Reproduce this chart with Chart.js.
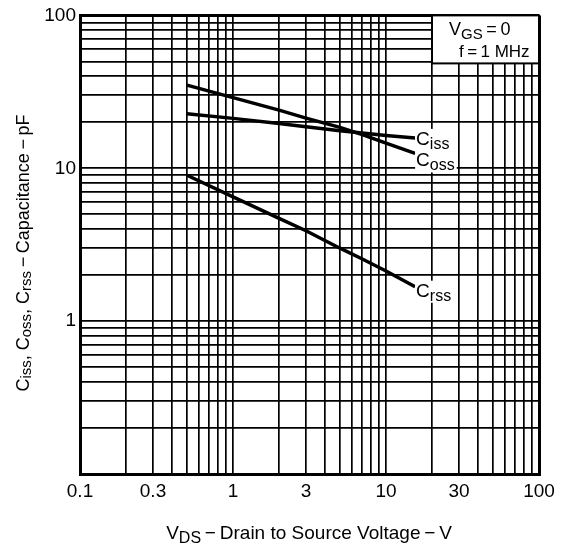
<!DOCTYPE html>
<html>
<head>
<meta charset="utf-8">
<script src="https://cdn.jsdelivr.net/npm/chart.js@4.4.1/dist/chart.umd.min.js"></script>
<style>
html, body { margin: 0; padding: 0; background: #fff; }
#wrap { width: 564px; height: 549px; }
</style>
</head>
<body>
<div id="wrap"><canvas id="grafico"></canvas></div>
<script>
// VDS (V) and capacitances (pF)
var vds  = [0.5, 1, 2, 3, 5, 7, 10, 15.5];
var ciss = [22.7, 21.2, 19.6, 18.7, 17.6, 17.0, 16.4, 15.8];
var coss = [35, 29, 24, 21.3, 18.5, 16.6, 14.6, 12.5];
var crss = [9.0, 6.5, 4.7, 3.9, 3.0, 2.55, 2.13, 1.68];

var xTickLabels = [0.1, 0.3, 1, 3, 10, 30, 100];
var yTickLabels = [1, 10, 100];
var decades = [0.1, 1, 10];
var steps = [1, 2, 3, 4, 5, 6, 7, 8, 9];

var gridVals = [];
decades.forEach(function (d) {
    steps.forEach(function (m) { gridVals.push(parseFloat((d * m).toPrecision(3))); });
});
gridVals.push(100);

var FONT = '"Liberation Sans", Arial, Helvetica, sans-serif';
Chart.defaults.font.family = FONT;
Chart.defaults.color = '#000';

function pts(ys) {
    return vds.map(function (x, i) { return { x: x, y: ys[i] }; });
}

// draw text made of normal / subscript pieces
function richWidth(ctx, parts, size) {
    var w = 0;
    parts.forEach(function (p) {
        ctx.font = (p.sub ? Math.round(size * 0.82) : size) + 'px ' + FONT;
        w += ctx.measureText(p.t).width;
    });
    return w;
}
function drawRich(ctx, parts, x, y, size, subDrop) {
    var cx = x;
    parts.forEach(function (p) {
        ctx.font = (p.sub ? Math.round(size * 0.82) : size) + 'px ' + FONT;
        ctx.fillText(p.t, cx, y + (p.sub ? subDrop : 0));
        cx += ctx.measureText(p.t).width;
    });
    return cx;
}

function edgeWidth(c) {
    var v = c.tick && c.tick.value;
    return (v === 0.1 || v === 100) ? 3 : 1.7;
}

var notes = {
    id: 'notes',
    afterDraw: function (chart) {
        var ctx = chart.ctx, a = chart.chartArea;
        var xs = chart.scales.x, ys = chart.scales.y;
        ctx.save();
        ctx.fillStyle = '#000';
        ctx.textBaseline = 'alphabetic';

        // curve labels at the end of each curve
        var curves = [
            { sub: 'iss', data: ciss, dy: 0 },
            { sub: 'oss', data: coss, dy: 6 },
            { sub: 'rss', data: crss, dy: 3 }
        ];
        curves.forEach(function (c) {
            var n = c.data.length - 1;
            var px = xs.getPixelForValue(vds[n]) + 1;
            var py = ys.getPixelForValue(c.data[n]) + 7 + c.dy;
            var parts = [{ t: 'C' }, { t: c.sub, sub: true }];
            var w = richWidth(ctx, parts, 19);
            ctx.fillStyle = '#fff';
            ctx.fillRect(px - 1, py - 16, w + 3, 22);
            ctx.fillStyle = '#000';
            drawRich(ctx, parts, px, py, 19, 4);
        });

        // condition box, top right
        var bx = a.right - 107, by = a.top, bw = 107, bh = 48;
        ctx.fillStyle = '#fff';
        ctx.fillRect(bx, by, bw, bh);
        ctx.strokeStyle = '#000';
        ctx.lineWidth = 2;
        ctx.strokeRect(bx, by, bw, bh);
        ctx.fillStyle = '#000';
        var p1 = [{ t: 'V' }, { t: 'GS', sub: true }, { t: '\u2009=\u20090' }];
        drawRich(ctx, p1, bx + 17, by + 20, 18, 4);
        ctx.font = '17px ' + FONT;
        ctx.fillText('f\u2009=\u20091 MHz', bx + 27, by + 42);

        // x axis title
        var xt = [{ t: 'V' }, { t: 'DS', sub: true }, { t: '\u2009\u2212\u2009Drain to Source Voltage\u2009\u2212\u2009V' }];
        var wx = richWidth(ctx, xt, 19);
        drawRich(ctx, xt, 309 - wx / 2, 539, 19, 4);

        // y axis title (rotated)
        var yt = [{ t: 'C' }, { t: 'iss', sub: true }, { t: ', C' }, { t: 'oss', sub: true },
                  { t: ', C' }, { t: 'rss', sub: true }, { t: '\u2009\u2212\u2009Capacitance\u2009\u2212\u2009pF' }];
        var wy = richWidth(ctx, yt, 18);
        ctx.translate(29, 253);
        ctx.rotate(-Math.PI / 2);
        drawRich(ctx, yt, -wy / 2, 0, 18, 2);
        ctx.restore();
    }
};

var ctx = document.getElementById('grafico').getContext('2d');
var grafico = new Chart(ctx, {
    type: 'line',
    data: {
        datasets: [
            { label: 'Ciss', data: pts(ciss) },
            { label: 'Coss', data: pts(coss) },
            { label: 'Crss', data: pts(crss) }
        ]
    },
    options: {
        responsive: true,
        maintainAspectRatio: false,
        animation: false,
        layout: { padding: { left: 0, top: 13, right: 25, bottom: 0 } },
        elements: {
            line: { borderColor: '#000', borderWidth: 3.5, tension: 0, fill: false, borderCapStyle: 'butt' },
            point: { radius: 0, hoverRadius: 0 }
        },
        plugins: { legend: { display: false }, tooltip: { enabled: false } },
        scales: {
            x: {
                type: 'logarithmic',
                min: 0.1,
                max: 100,
                afterBuildTicks: function (s) { s.ticks = gridVals.map(function (v) { return { value: v }; }); },
                afterFit: function (s) { s.height = 75; },
                border: { display: true, color: '#000', width: 3 },
                grid: { color: '#000', lineWidth: edgeWidth, drawTicks: false },
                ticks: {
                    autoSkip: false,
                    maxRotation: 0,
                    padding: 6,
                    font: { size: 19 },
                    color: '#000',
                    callback: function (v) { return xTickLabels.indexOf(v) >= 0 ? String(v) : ''; }
                }
            },
            y: {
                type: 'logarithmic',
                min: 0.1,
                max: 100,
                afterBuildTicks: function (s) { s.ticks = gridVals.map(function (v) { return { value: v }; }); },
                afterFit: function (s) { s.width = 80; },
                border: { display: true, color: '#000', width: 3 },
                grid: { color: '#000', lineWidth: edgeWidth, drawTicks: false },
                ticks: {
                    autoSkip: false,
                    padding: 4,
                    font: { size: 19 },
                    color: '#000',
                    callback: function (v) { return yTickLabels.indexOf(v) >= 0 ? String(v) : ''; }
                }
            }
        }
    },
    plugins: [notes]
});
</script>
</body>
</html>
